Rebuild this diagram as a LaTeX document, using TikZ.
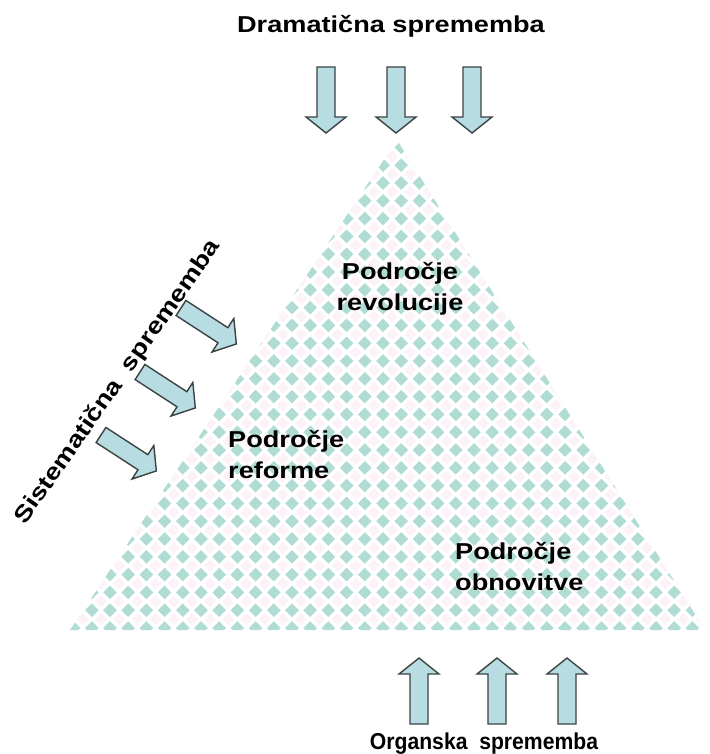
\documentclass[tikz,border=0pt]{standalone}
\usepackage{fontspec}
\setmainfont{Liberation Sans}
\usepackage{graphicx}
\definecolor{diam}{RGB}{176,220,211}
\definecolor{diamlt}{RGB}{252,243,248}
\definecolor{arrfill}{RGB}{183,221,226}
\definecolor{arrline}{RGB}{60,66,66}
% horizontally stretched label text
\newcommand{\wide}[2][1.18]{\scalebox{#1}[1]{#2}}
\tikzset{
  lbl/.style={font=\fontsize{23}{31}\selectfont\bfseries, inner sep=0pt},
  blockarrow/.pic={
    \filldraw[fill=arrfill, draw=arrline, line width=1.4pt, line join=miter]
      (0,-9) -- (50,-9) -- (50,-20) -- (66,0) -- (50,20) -- (50,9) -- (0,9) -- cycle;
  }
}
\begin{document}
\begin{tikzpicture}[x=1pt, y=-1pt]
  \fill[white] (0,0) rectangle (709,754);
  \useasboundingbox (0,0) rectangle (709,754);

  % the triangle, filled with a diamond check
  \coordinate (apex) at (397,140);
  \coordinate (bl) at (70,630);
  \coordinate (br) at (705,630);
  \begin{scope}
    \clip (apex) -- (bl) -- (br) -- cycle;
    \foreach \i in {0,...,35} {
      \foreach \j in {0,...,28} {
        \pgfmathsetmacro{\cx}{73.6+\i*18.2}
        \pgfmathsetmacro{\cy}{628-\j*17.8}
        \fill[diamlt] (\cx+9.1,\cy-8.9) +(-6,0) -- +(0,-6) -- +(6,0) -- +(0,6) -- cycle;
        \fill[diam] (\cx,\cy) +(-6.8,0) -- +(0,-6.8) -- +(6.8,0) -- +(0,6.8) -- cycle;
      }
    }
  \end{scope}

  % arrows from above
  \pic[rotate=-90] (d1) at (326,67) {blockarrow};
  \pic[rotate=-90] (d2) at (396,67) {blockarrow};
  \pic[rotate=-90] (d3) at (472,67) {blockarrow};

  % arrows from the left
  \pic[rotate=-33] (s1) at (181,308) {blockarrow};
  \pic[rotate=-33] (s2) at (140,372) {blockarrow};
  \pic[rotate=-33] (s3) at (101,435) {blockarrow};

  % arrows from below
  \pic[rotate=90] (o1) at (419,724) {blockarrow};
  \pic[rotate=90] (o2) at (497,724) {blockarrow};
  \pic[rotate=90] (o3) at (567,724) {blockarrow};

  % labels
  \node[lbl] (dram) at (391,26) {\wide{Dramatična sprememba}};
  \node[lbl, align=center] (rev) at (400,289) {\wide{Področje}\\\wide{revolucije}};
  \node[lbl, align=left, anchor=west] (ref) at (228,455) {\wide{Področje}\\\wide{reforme}};
  \node[lbl, align=left, anchor=west] (obn) at (455,567) {\wide{Področje}\\\wide{obnovitve}};
  \node[lbl, rotate=55] (sis) at (118,382) {\wide[1.2]{Sistematična\ \ sprememba}};
  \node[lbl, anchor=base] (org) at (484,749) {\wide[0.92]{Organska\ \ sprememba}};
\end{tikzpicture}
\end{document}
